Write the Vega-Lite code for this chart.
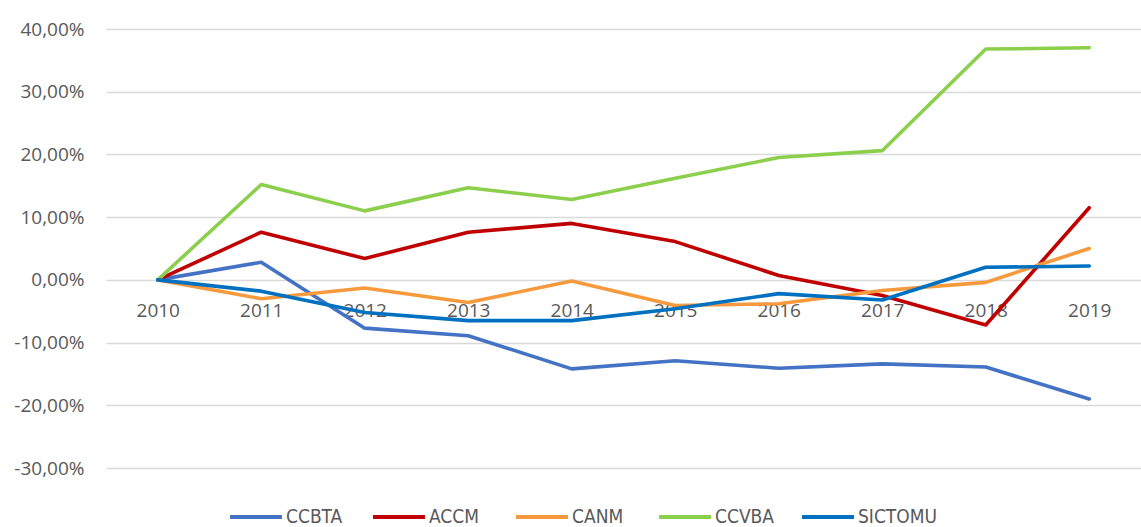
{
  "$schema": "https://vega.github.io/schema/vega-lite/v6.json",
  "width": 1035,
  "height": 439,
  "autosize": "none",
  "padding": {"left": 106, "top": 29, "right": 0, "bottom": 59},
  "background": "white",
  "config": {
    "view": {"stroke": null},
    "font": "Open Sans"
  },
  "data": {
    "values": [
      {"year": "2010", "series": "CCBTA", "value": 0},
      {"year": "2011", "series": "CCBTA", "value": 0.028},
      {"year": "2012", "series": "CCBTA", "value": -0.077},
      {"year": "2013", "series": "CCBTA", "value": -0.089},
      {"year": "2014", "series": "CCBTA", "value": -0.142},
      {"year": "2015", "series": "CCBTA", "value": -0.129},
      {"year": "2016", "series": "CCBTA", "value": -0.141},
      {"year": "2017", "series": "CCBTA", "value": -0.134},
      {"year": "2018", "series": "CCBTA", "value": -0.139},
      {"year": "2019", "series": "CCBTA", "value": -0.190},
      {"year": "2010", "series": "ACCM", "value": 0},
      {"year": "2011", "series": "ACCM", "value": 0.076},
      {"year": "2012", "series": "ACCM", "value": 0.034},
      {"year": "2013", "series": "ACCM", "value": 0.076},
      {"year": "2014", "series": "ACCM", "value": 0.090},
      {"year": "2015", "series": "ACCM", "value": 0.061},
      {"year": "2016", "series": "ACCM", "value": 0.007},
      {"year": "2017", "series": "ACCM", "value": -0.025},
      {"year": "2018", "series": "ACCM", "value": -0.072},
      {"year": "2019", "series": "ACCM", "value": 0.115},
      {"year": "2010", "series": "CANM", "value": 0},
      {"year": "2011", "series": "CANM", "value": -0.030},
      {"year": "2012", "series": "CANM", "value": -0.013},
      {"year": "2013", "series": "CANM", "value": -0.036},
      {"year": "2014", "series": "CANM", "value": -0.002},
      {"year": "2015", "series": "CANM", "value": -0.041},
      {"year": "2016", "series": "CANM", "value": -0.038},
      {"year": "2017", "series": "CANM", "value": -0.017},
      {"year": "2018", "series": "CANM", "value": -0.004},
      {"year": "2019", "series": "CANM", "value": 0.050},
      {"year": "2010", "series": "CCVBA", "value": 0},
      {"year": "2011", "series": "CCVBA", "value": 0.152},
      {"year": "2012", "series": "CCVBA", "value": 0.110},
      {"year": "2013", "series": "CCVBA", "value": 0.147},
      {"year": "2014", "series": "CCVBA", "value": 0.128},
      {"year": "2015", "series": "CCVBA", "value": 0.162},
      {"year": "2016", "series": "CCVBA", "value": 0.195},
      {"year": "2017", "series": "CCVBA", "value": 0.206},
      {"year": "2018", "series": "CCVBA", "value": 0.368},
      {"year": "2019", "series": "CCVBA", "value": 0.370},
      {"year": "2010", "series": "SICTOMU", "value": 0},
      {"year": "2011", "series": "SICTOMU", "value": -0.018},
      {"year": "2012", "series": "SICTOMU", "value": -0.052},
      {"year": "2013", "series": "SICTOMU", "value": -0.065},
      {"year": "2014", "series": "SICTOMU", "value": -0.065},
      {"year": "2015", "series": "SICTOMU", "value": -0.046},
      {"year": "2016", "series": "SICTOMU", "value": -0.022},
      {"year": "2017", "series": "SICTOMU", "value": -0.032},
      {"year": "2018", "series": "SICTOMU", "value": 0.020},
      {"year": "2019", "series": "SICTOMU", "value": 0.022}
    ]
  },
  "mark": {"type": "line", "strokeWidth": 3.6, "strokeCap": "round", "strokeJoin": "round"},
  "encoding": {
    "x": {
      "field": "year",
      "type": "ordinal",
      "scale": {"type": "point", "padding": 0.5},
      "axis": {
        "title": null,
        "labelAngle": 0,
        "domain": false,
        "ticks": false,
        "grid": false,
        "offset": -187,
        "labelPadding": 20,
        "labelFontSize": 19,
        "labelColor": "#595959",
        "labelFont": "Open Sans"
      }
    },
    "y": {
      "field": "value",
      "type": "quantitative",
      "scale": {"domain": [-0.3, 0.4], "nice": false, "zero": false},
      "axis": {
        "title": null,
        "values": [-0.3, -0.2, -0.1, 0, 0.1, 0.2, 0.3, 0.4],
        "labelExpr": "replace(replace(format(datum.value, '.2%'), '.', ','), '\u2212', '-')",
        "domain": false,
        "ticks": false,
        "grid": true,
        "gridColor": "#d9d9d9",
        "gridWidth": 1.5,
        "labelPadding": 22,
        "labelFontSize": 19,
        "labelColor": "#595959",
        "labelFont": "Open Sans"
      }
    },
    "color": {
      "field": "series",
      "type": "nominal",
      "scale": {
        "domain": ["CCBTA", "ACCM", "CANM", "CCVBA", "SICTOMU"],
        "range": ["#4472C4", "#C00000", "#F79A3E", "#8CCF4D", "#0070C0"]
      },
      "legend": {
        "title": null,
        "orient": "none",
        "legendX": 122,
        "legendY": 460,
        "direction": "horizontal",
        "symbolType": "stroke",
        "symbolSize": 2700,
        "symbolStrokeWidth": 4,
        "labelFontSize": 19,
        "labelColor": "#595959",
        "labelFont": "DejaVu Sans Condensed",
        "labelOffset": 2,
        "gridAlign": "all",
        "columnPadding": 0
      }
    }
  }
}
